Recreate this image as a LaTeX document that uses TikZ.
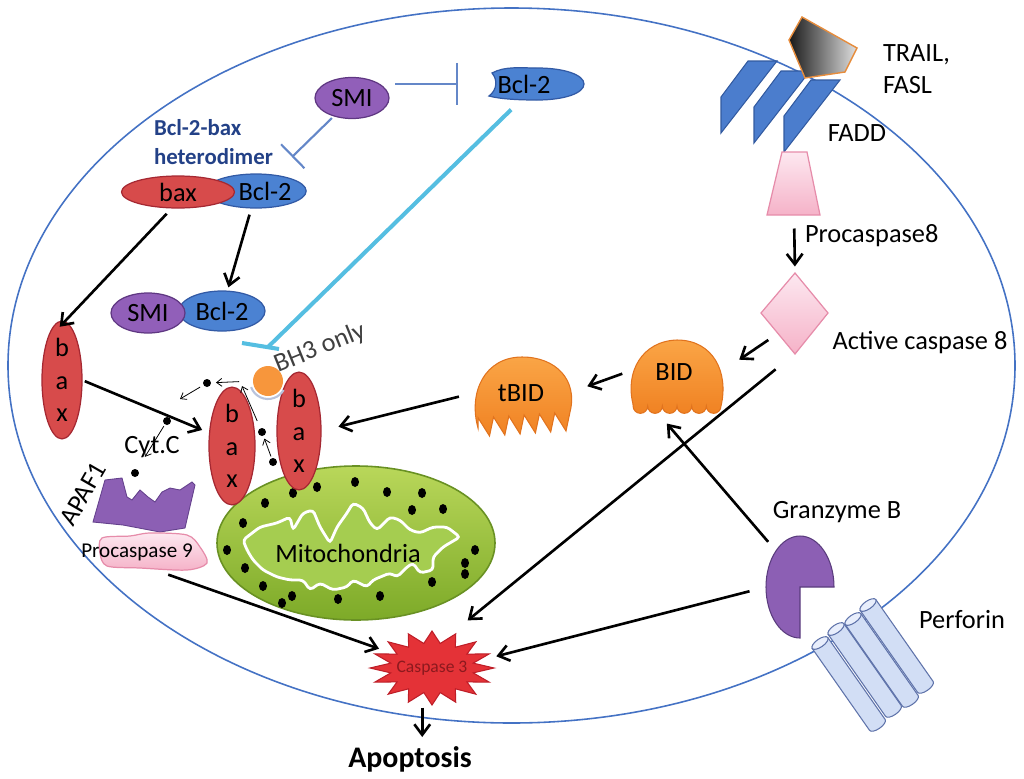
\documentclass[tikz,border=0pt]{standalone}
\usepackage{fontspec}
\setmainfont{Carlito}
\usetikzlibrary{positioning,calc,shapes.geometric,arrows.meta}
\newdimen\pxu \pxu=0.02cm
\definecolor{cellblue}{RGB}{68,114,196}
\definecolor{blockblue}{RGB}{100,135,200}
\definecolor{cyanblock}{RGB}{85,190,225}
\definecolor{smipurple}{RGB}{145,95,185}
\definecolor{smiedge}{RGB}{95,55,130}
\definecolor{bclblue}{RGB}{75,130,210}
\definecolor{bcledge}{RGB}{50,90,165}
\definecolor{baxred}{RGB}{215,75,75}
\definecolor{baxedge}{RGB}{165,40,50}
\definecolor{hetblue}{RGB}{35,65,135}
\definecolor{bh3orange}{RGB}{247,150,60}
\definecolor{arcgray}{RGB}{185,195,220}
\definecolor{bidlight}{RGB}{250,165,70}
\definecolor{biddark}{RGB}{240,130,35}
\definecolor{bidedge}{RGB}{225,115,30}
\definecolor{pinklight}{RGB}{253,232,240}
\definecolor{pinkdark}{RGB}{245,178,200}
\definecolor{pinkedge}{RGB}{230,140,170}
\definecolor{recblue}{RGB}{75,125,205}
\definecolor{recedge}{RGB}{50,90,160}
\definecolor{ligedge}{RGB}{230,140,60}
\definecolor{mitolight}{RGB}{185,215,90}
\definecolor{mitodark}{RGB}{125,170,40}
\definecolor{mitoedge}{RGB}{105,145,35}
\definecolor{mitoinner}{RGB}{165,205,80}
\definecolor{apafpurple}{RGB}{140,95,180}
\definecolor{apafedge}{RGB}{100,65,140}
\definecolor{starred}{RGB}{228,50,55}
\definecolor{staredge}{RGB}{190,30,40}
\definecolor{casptext}{RGB}{140,25,30}
\definecolor{granpurple}{RGB}{140,95,180}
\definecolor{granedge}{RGB}{90,60,125}
\definecolor{perfblue}{RGB}{210,222,245}
\definecolor{perfedge}{RGB}{95,115,170}
\definecolor{perfcap}{RGB}{232,238,252}

\begin{document}
\begin{tikzpicture}[x=0.02cm, y=-0.02cm,
        every node/.style = {inner sep=0pt, outer sep=0pt, font=\fontsize{15}{18}\selectfont},
        cellline/.style = {draw=cellblue, line width=.9pt},
        arrowblack/.style = {-{Straight Barb[length=6pt,width=9pt]}, line width=1.5pt},
        arrowthin/.style = {-{Straight Barb[length=3pt,width=4.5pt]}, line width=.45pt},
        blockline/.style = {draw=blockblue, line width=1.2pt},
        cyanline/.style = {draw=cyanblock, line width=2.3pt},
        sminode/.style = {ellipse, draw=smiedge, fill=smipurple, line width=.7pt, minimum width=74\pxu, minimum height=41\pxu},
        bclnode/.style = {ellipse, draw=bcledge, fill=bclblue, line width=.7pt},
        baxnode/.style = {ellipse, draw=baxedge, fill=baxred, line width=.7pt, align=center, font=\fontsize{15}{18.5}\selectfont},
        dotnode/.style = {circle, fill=black, minimum size=8\pxu},
        blobstyle/.style = {top color=bidlight, bottom color=biddark, draw=bidedge, line width=.6pt},
        pinkstyle/.style = {top color=pinklight, bottom color=pinkdark, draw=pinkedge, line width=.7pt},
        recstyle/.style = {fill=recblue, draw=recedge, line width=.6pt},
        perfstyle/.style = {fill=perfblue, draw=perfedge, line width=.6pt},
        ]
        \useasboundingbox (0,0) rectangle (1024,778);
        % cell membrane
        \draw[cellline] (511.5,365.5) ellipse [x radius=503.5, y radius=357.5];

        % death receptor and ligand
        \foreach \rx/\ry in {721/97, 754/107, 784/116}
            \draw[recstyle] (\rx,\ry) -- ++(27,-36) -- ++(29,0) -- ++(-56,72) -- cycle;
        \draw[draw=ligedge, line width=.8pt, left color=black!90, right color=black!12]
            (789,40) -- (802,17) -- (857,48) -- (845,72) -- (805,78) -- cycle;
        \draw[pinkstyle] (782,152) -- (807,152) -- (820,215) -- (767,215) -- cycle;
        \node (procasp8) [minimum width=53\pxu, minimum height=63\pxu] at (794,184) {};
        \draw[pinkstyle] (795,273) -- (828,313) -- (795,354) -- (761,313) -- cycle;
        \node (casp8) [diamond, minimum width=67\pxu, minimum height=81\pxu] at (795,313) {};

        % BID and tBID
        \draw[blobstyle] (633,404) .. controls (625,372) and (642,341) .. (677,340)
            .. controls (713,340) and (729,372) .. (721,406)
            \foreach \k in {1,...,6} {arc[start angle=0, end angle=-180, radius=7.33\pxu]} -- cycle;
        \node (bid) [ellipse, minimum width=94\pxu, minimum height=72\pxu] at (674,372) {BID};
        \draw[blobstyle] (478,428) .. controls (468,392) and (485,357) .. (522,357)
            .. controls (556,357) and (578,380) .. (570,412)
            \foreach \k in {1,...,6} { -- ++(-4,19) -- ++(-11.3,-18) } -- cycle;
        \node (tbid) [minimum width=95\pxu, minimum height=72\pxu] at (521,393) {tBID};

        % SMI and Bcl-2
        \node (smi1) [sminode] at (352,98) {SMI};
        \draw[fill=bclblue, draw=bcledge, line width=.7pt] (492,73) .. controls (505,66) and (520,68) .. (537,68)
            .. controls (565,68) and (584,75) .. (584,84) .. controls (584,93) and (565,100) .. (537,100)
            .. controls (518,100) and (500,99) .. (489,96) .. controls (497,90) and (498,80) .. cycle;
        \node (bcltop) [ellipse, minimum width=94\pxu, minimum height=32\pxu] at (537,84) {};
        \node (bcltext) at ([xshift=-13\pxu]bcltop.center) {Bcl-2};
        \node (hbcl) [bclnode, minimum width=92\pxu, minimum height=34\pxu] at (256,191) {\hspace{18\pxu}Bcl-2};
        \node (hbax) [baxnode, minimum width=113\pxu, minimum height=32\pxu] at (178,192) {bax};
        \node (lbcl) [bclnode, minimum width=86\pxu, minimum height=40\pxu] at (222,311) {Bcl-2};
        \node (lsmi) [sminode, minimum width=74\pxu, minimum height=40\pxu] at (148,313) {SMI};

        % mitochondria
        \node (mito) [ellipse, minimum width=278\pxu, minimum height=154\pxu, draw=mitoedge, line width=.9pt, top color=mitolight, bottom color=mitodark] at (356,543) {};
        \draw[white, line width=1.6pt, rounded corners=2pt, fill=mitoinner]
            (243,540) -- (260,527) -- (277,523) -- (290,517) -- (293,530) -- (303,513) -- (313,510)
            -- (320,527) -- (330,543) -- (337,527) -- (347,513) -- (353,503) -- (363,508) -- (370,523)
            -- (377,530) -- (390,517) -- (400,520) -- (410,530) -- (420,533) -- (433,527) -- (447,527)
            -- (460,537) -- (443,547) -- (433,557) -- (433,570) -- (420,573) -- (413,563) -- (407,567)
            -- (397,577) -- (390,573) -- (373,580) -- (367,587) -- (353,580) -- (347,587) -- (333,590)
            -- (320,583) -- (310,590) -- (303,580) -- (290,580) -- (277,577) -- (263,570) -- (253,560)
            -- (247,550) -- cycle;
        \foreach \mx/\my in {265/503, 293/493, 317/487, 355/482, 387/492, 422/493, 443/509, 412/510,
                243/523, 227/550, 245/568, 263/586, 292/596, 282/603, 338/599, 380/596, 432/582,
                465/563, 465/574, 475/550}
            \fill (\mx,\my) ellipse [x radius=4, y radius=5];
        \node (mitolabel) at (348,553) {Mitochondria};

        % bax pore and BH3
        \node (lbax) [baxnode, minimum width=40\pxu, minimum height=94\pxu] at (62,380) {b\\a\\x};
        \node (bax1) [baxnode, minimum width=46\pxu, minimum height=104\pxu] at (232,446) {b\\a\\x};
        \node (bax2) [baxnode, minimum width=44\pxu, minimum height=92\pxu] at (299,431) {b\\a\\x};
        \node (bh3) [circle, fill=bh3orange, minimum size=30\pxu] at (268,381) {};
        \draw[draw=arcgray, line width=1.2pt] ([shift={(200:18\pxu)}]bh3.center) arc [start angle=200, end angle=330, radius=18\pxu];
        \node (bh3label) [rotate=22, text=darkgray] at (320,348) {BH3 only};

        % cytochrome c
        \node (d1) [dotnode] at (207,383) {};
        \node (d2) [dotnode] at (167,421) {};
        \node (d3) [dotnode] at (262,432) {};
        \node (d4) [dotnode] at (273,462) {};
        \node (d5) [dotnode] at (135,473) {};
        \coordinate (c1) at (180,399);
        \coordinate (c2) at (242,386);
        \node (cytc) at (152,447) {Cyt.C};

        % apoptosome
        \draw[fill=apafpurple, draw=apafedge, line width=.5pt] (93,522) -- (105,480) -- (122,478) -- (127,497)
            -- (132,500) -- (140,490) -- (148,497) -- (155,502) -- (162,492) -- (170,488) -- (180,490)
            -- (192,482) -- (195,485) -- (188,515) -- (185,528) -- (160,532) -- (123,525) -- cycle;
        \node (apaf) [rotate=60] at (83,494) {APAF1};
        \draw[pinkstyle] plot[smooth cycle] coordinates {(102,538) (130,536) (150,533) (187,535) (200,547)
            (207,563) (187,570) (140,568) (107,566) (100,553)};
        \node (procasp9) [minimum width=107\pxu, minimum height=36\pxu, font=\fontsize{12}{14}\selectfont] at (137,552) {Procaspase 9};

        % caspase 3
        \coordinate (casp3c) at (432,668);
        \draw[fill=starred, draw=staredge, line width=.6pt, shift={(casp3c)}]
            plot[samples at={0,...,31}] ({\x*11.25}:{62-20*mod(\x,2)} and {37-12*mod(\x,2)}) -- cycle;
        \node (casp3) [ellipse, minimum width=124\pxu, minimum height=74\pxu, font=\fontsize{10}{12}\selectfont, text=casptext] at (casp3c) {Caspase 3};
        \node (apop) [below=42\pxu of casp3, xshift=-22\pxu, font=\bfseries\fontsize{17}{20}\selectfont] {Apoptosis};

        % granzyme B and perforin
        \draw[fill=granpurple, draw=granedge, line width=.6pt] (800,587) -- ++(34,0)
            arc [start angle=0, end angle=270, x radius=34\pxu, y radius=51\pxu] -- cycle;
        \node (gran) [ellipse, minimum width=68\pxu, minimum height=102\pxu] at (800,587) {};
        \node (grantext) [above=13\pxu of gran, xshift=37\pxu] {Granzyme B};
        \foreach \cx/\cy in {868/605, 853/619, 836/629, 820/643} {
            \begin{scope}[shift={(\cx,\cy)}, rotate=-55]
                \draw[perfstyle] (100,0) ellipse [x radius=4, y radius=9.5];
                \filldraw[perfstyle] (100,-9.5) -- (0,-9.5) -- (0,9.5) -- (100,9.5);
                \draw[perfstyle, fill=perfcap] (0,0) ellipse [x radius=4, y radius=9.5];
            \end{scope}
        }

        % labels
        \node (traillabel) [anchor=west, align=left] at (883,69) {TRAIL,\\FASL};
        \node (faddlabel) at (857,133) {FADD};
        \node (p8label) [anchor=west] at (805,236) {Procaspase8};
        \node (c8label) [right=4\pxu of casp8, yshift=-30\pxu] {Active caspase 8};
        \node (perflabel) at (962,620) {Perforin};
        \node (hetlabel) [anchor=west, align=left, text=hetblue, font=\bfseries\fontsize{13}{16.4}\selectfont] at (154,142) {Bcl-2-bax\\heterodimer};

        % inhibition
        \draw[blockline, -{Bar[width=24pt]}] ([xshift=6\pxu]smi1.east |- bcltop) -- ([xshift=-32\pxu]bcltop.west);
        \draw[blockline, -{Bar[width=19pt]}, shorten <=3\pxu] (smi1.225) -- ([xshift=36\pxu,yshift=17\pxu]hbcl.north);
        \coordinate (bh3block) at ([yshift=19\pxu]bh3.north);
        \draw[cyanline, shorten <=15\pxu] (bcltop.225) -- (bh3block);
        \draw[cyanline] ([xshift=-26\pxu,yshift=4\pxu]bh3block) -- ([xshift=11\pxu,yshift=-2\pxu]bh3block);

        % activation
        \draw[arrowblack, shorten <=8\pxu, shorten >=18\pxu] (hbax.250) -- (lbax.110);
        \draw[arrowblack, shorten <=7\pxu, shorten >=4\pxu] (hbcl.255) -- (lbcl.75);
        \draw[arrowblack, shorten <=3\pxu, shorten >=8\pxu] (lbax.east) -- (bax1.150);
        \draw[arrowblack, shorten <=15\pxu, shorten >=18\pxu] (tbid.west) -- (bax2.east);
        \draw[arrowblack, shorten <=5\pxu, shorten >=20\pxu] (bid.west) -- (tbid.east);
        \draw[arrowblack, shorten <=12\pxu, shorten >=22\pxu] (casp8.south west) -- (bid.east);
        \draw[arrowblack, shorten <=13\pxu, shorten >=6\pxu] (procasp8.south) -- (casp8.north);
        \draw[arrowblack, shorten <=25\pxu, shorten >=20\pxu] (casp8.south) -- (casp3.60);
        \draw[arrowblack, shorten <=17\pxu, shorten >=5\pxu] (gran.west) -- (casp3.10);
        \draw[arrowblack, shorten <=12\pxu, shorten >=28\pxu] (gran.north west) -- (bid.230);
        \draw[arrowblack, shorten <=14\pxu] (procasp9.315) -- (casp3.160);
        \draw[arrowblack, shorten <=3\pxu, shorten >=10\pxu] (casp3.255) -- (casp3.255 |- apop.north);

        % cytochrome c release
        \draw[arrowthin, shorten <=14\pxu, shorten >=5\pxu] (bh3.west) -- (d1);
        \draw[arrowthin, shorten <=4\pxu] (d1) -- (c1);
        \draw[arrowthin, shorten <=8\pxu] (d3) -- (c2);
        \draw[arrowthin, shorten <=2\pxu, shorten >=3\pxu] (d4) -- (d3);
        \draw[arrowthin, shorten <=2\pxu, shorten >=15\pxu] (d2) -- (d5);
    \end{tikzpicture}
\end{document}
